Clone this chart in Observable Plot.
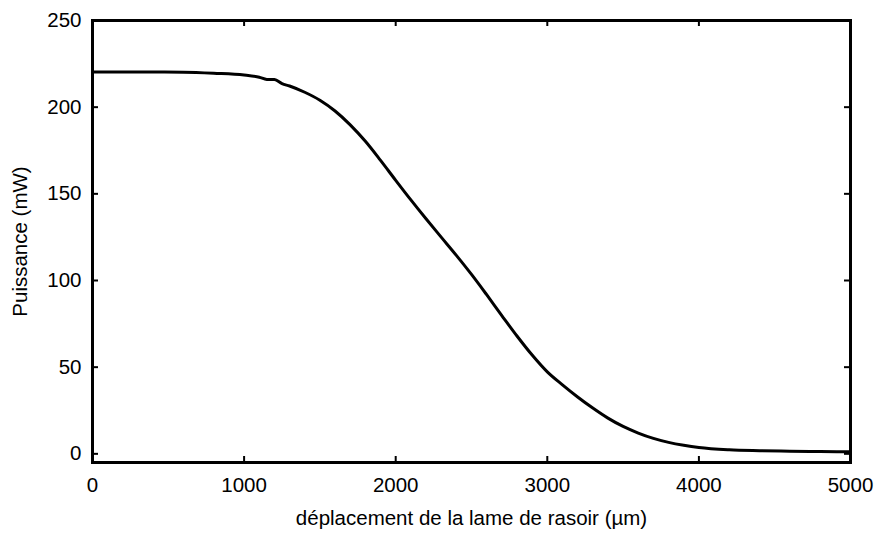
<!DOCTYPE html>
<html>
<head>
<meta charset="utf-8">
<script src="https://cdn.jsdelivr.net/npm/d3@7"></script>
<script src="https://cdn.jsdelivr.net/npm/@observablehq/plot@0.6"></script>
<style>
  html, body { margin: 0; padding: 0; background: #fff; }
</style>
</head>
<body>
<div id="chart"></div>
<script>
// Data
const positions = [0, 200, 400, 600, 800, 1000, 1100, 1150, 1200, 1250, 1300, 1400, 1500, 1600, 1700, 1800, 1900, 2000, 2100, 2200, 2300, 2400, 2500, 2600, 2700, 2800, 2900, 3000, 3100, 3200, 3300, 3400, 3500, 3600, 3700, 3800, 3900, 4000, 4200, 4400, 4600, 4800, 5000];
const power = [220.3, 220.3, 220.3, 220.2, 219.6, 218.6, 217.3, 216.0, 215.9, 213.6, 212.2, 208.6, 204.0, 197.8, 189.8, 180.3, 169.3, 157.8, 146.5, 135.6, 125.0, 114.5, 103.5, 91.8, 79.8, 68.0, 57.0, 47.3, 39.8, 32.8, 26.4, 20.6, 15.8, 12.0, 8.9, 6.6, 4.9, 3.6, 2.3, 1.8, 1.5, 1.3, 1.2];
const xTicks = [0, 1000, 2000, 3000, 4000, 5000];
const yTicks = [0, 50, 100, 150, 200, 250];
const xLabel = "déplacement de la lame de rasoir (µm)";
const yLabel = "Puissance (mW)";

const data = positions.map((x, i) => ({x, y: power[i]}));

const W = 874, H = 533;
const mL = 92, mR = 24, mT = 20, mB = 71;
const plotW = W - mL - mR, plotH = H - mT - mB;
const tickLen = 6;
const fs = 20.5;

const chart = Plot.plot({
  width: W,
  height: H,
  marginLeft: mL,
  marginRight: mR,
  marginTop: mT,
  marginBottom: mB,
  style: {fontSize: fs + "px", fontFamily: "'Liberation Sans', Arial, sans-serif", color: "black", background: "white"},
  x: {domain: [0, 5000]},
  y: {domain: [-5, 250]},
  marks: [
    Plot.axisX(xTicks, {tickSize: 0, tickPadding: 15, label: null, tickFormat: d => String(d)}),
    Plot.axisY(yTicks, {tickSize: 0, tickPadding: 11, label: null, tickFormat: d => String(d)}),
    // inward tick marks on all four sides
    Plot.tickX(xTicks, {x: d => d, insetTop: plotH - tickLen, stroke: "black", strokeWidth: 2}),
    Plot.tickX(xTicks, {x: d => d, insetBottom: plotH - tickLen, stroke: "black", strokeWidth: 2}),
    Plot.tickY(yTicks, {y: d => d, insetRight: plotW - tickLen, stroke: "black", strokeWidth: 2}),
    Plot.tickY(yTicks, {y: d => d, insetLeft: plotW - tickLen, stroke: "black", strokeWidth: 2}),
    Plot.line(data, {x: "x", y: "y", stroke: "black", strokeWidth: 3, curve: "monotone-x"}),
    Plot.frame({stroke: "black", strokeWidth: 3}),
    Plot.text([xLabel], {text: d => d, frameAnchor: "bottom", dy: 62, fontSize: fs, fill: "black"}),
    Plot.text([yLabel], {text: d => d, frameAnchor: "left", textAnchor: "middle", dx: -72, rotate: -90, fontSize: fs, fill: "black"})
  ]
});
document.getElementById("chart").appendChild(chart);
</script>
</body>
</html>
